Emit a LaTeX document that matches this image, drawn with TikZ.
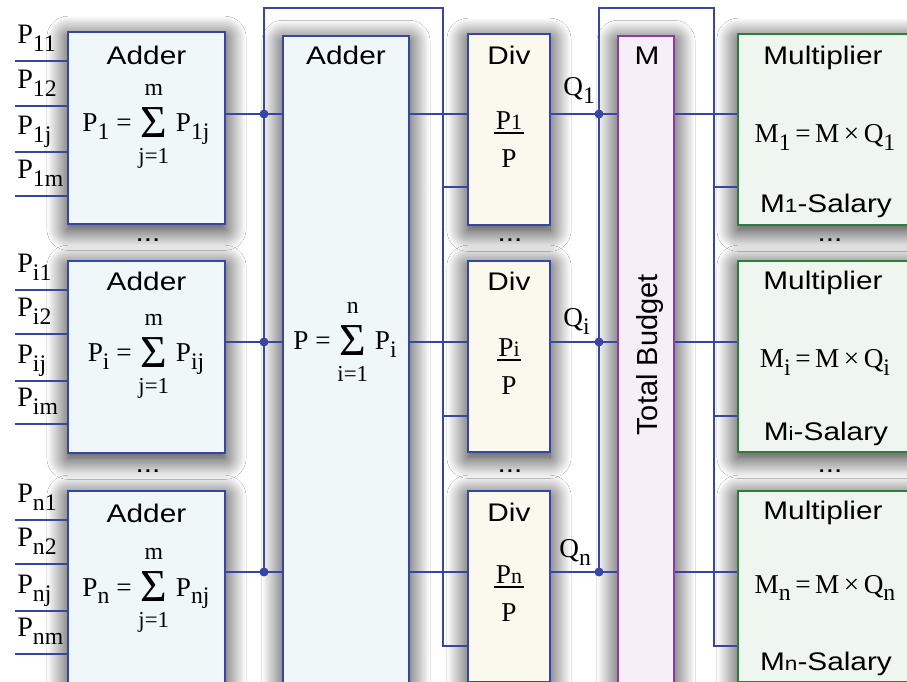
\documentclass[tikz,border=0pt]{standalone}
\usepackage{fontspec}
\setmainfont{Liberation Sans}[FakeStretch=1.17]
\newfontfamily\tms{Liberation Serif}
\newfontfamily\tbf{Liberation Sans}
\usetikzlibrary{shadows.blur}
\definecolor{wireblue}{RGB}{55,70,165}
\definecolor{addfill}{RGB}{239,247,249}
\definecolor{divfill}{RGB}{251,249,237}
\definecolor{tbfill}{RGB}{247,239,247}
\definecolor{tbline}{RGB}{140,60,165}
\definecolor{multfill}{RGB}{239,246,240}
\definecolor{multline}{RGB}{46,125,60}
\newcommand{\Sb}[2]{#1\raisebox{-0.28em}{\fontsize{13.5}{13.5}\selectfont #2}}
\newcommand{\Sn}[2]{#1{\fontsize{12.5}{12.5}\selectfont #2}}
\newcommand{\Sm}[2]{\ensuremath{\mathop{\raisebox{-3pt}{\fontsize{26}{26}\selectfont Σ}}\limits^{\hbox{\fontsize{13.5}{13.5}\selectfont #1\rule[-5.5pt]{0pt}{5.5pt}}}_{\hbox{\fontsize{13}{13}\selectfont\rule{0pt}{13pt}#2}}}}
\newcommand{\Fr}[1]{\setlength{\arrayrulewidth}{1.1pt}\begin{tabular}{@{\hspace{1pt}}c@{\hspace{1pt}}}#1\\[-4pt]\hline\rule{0pt}{19pt}P\end{tabular}}

\begin{document}
\begin{tikzpicture}[x=0.02cm,y=-0.02cm,
  box/.style={draw=wireblue,line width=1.3pt,inner sep=0pt,
    blur shadow={shadow blur radius=12pt,shadow blur steps=25,shadow xshift=0pt,shadow yshift=-3pt,shadow opacity=90}},
  adder/.style={box,fill=addfill,minimum width=3.14cm,minimum height=3.84cm},
  divbox/.style={box,fill=divfill,minimum width=1.64cm,minimum height=3.82cm},
  multbox/.style={box,draw=multline,fill=multfill,minimum width=4.04cm,minimum height=3.82cm},
  link/.style={draw=wireblue,line width=.9pt},
  title/.style={font=\fontsize{14.5}{17}\selectfont,anchor=base,inner sep=0pt},
  formula/.style={font=\tms\fontsize{15.5}{18}\selectfont,anchor=base,inner sep=0pt},
  inlab/.style={font=\tms\fontsize{16}{18}\selectfont,anchor=base west,inner sep=0pt}]
\useasboundingbox (0,0) rectangle (907,682);
\fill[white] (0,0) rectangle (907,682);
\clip (0,0) rectangle (907,682);
\node[adder] (a1) at (146.5,128) {};
\node[adder] (a2) at (146.5,357) {};
\node[adder] (a3) at (146.5,587) {};
\node[adder,minimum width=2.52cm,minimum height=13.68cm] (sum) at (346,378) {};
\node[divbox] (d1) at (509,129.5) {};
\node[divbox] (d2) at (509,356.5) {};
\node[divbox] (d3) at (509,586.5) {};
\node[box,draw=tbline,fill=tbfill,minimum width=1.12cm,minimum height=13.68cm] (tb) at (646,378) {};
\node[multbox] (m1) at (839,129.5) {};
\node[multbox] (m2) at (839,356.5) {};
\node[multbox] (m3) at (839,586.5) {};
\coordinate (o1) at (0,114);
\coordinate (o2) at (0,342);
\coordinate (o3) at (0,572);
\coordinate (b1) at (0,187);
\coordinate (b2) at (0,416);
\coordinate (b3) at (0,646);
\coordinate (t1) at (264,8);
\coordinate (t2) at (443,8);
\coordinate (t3) at (599,8);
\coordinate (t4) at (714,8);
\coordinate (i11) at (15,61);\draw[link] (i11) -- (a1.west |- i11);\node[inlab] (p11) at (17,43.5) {\Sb{P}{11}};
\coordinate (i12) at (15,106);\draw[link] (i12) -- (a1.west |- i12);\node[inlab] (p12) at (17,88.5) {\Sb{P}{12}};
\coordinate (i13) at (15,152);\draw[link] (i13) -- (a1.west |- i13);\node[inlab] (p13) at (17,134.5) {\Sb{P}{1j}};
\coordinate (i14) at (15,196);\draw[link] (i14) -- (a1.west |- i14);\node[inlab] (p14) at (17,178.5) {\Sb{P}{1m}};
\coordinate (i21) at (15,290);\draw[link] (i21) -- (a2.west |- i21);\node[inlab] (p21) at (17,272.5) {\Sb{P}{i1}};
\coordinate (i22) at (15,334);\draw[link] (i22) -- (a2.west |- i22);\node[inlab] (p22) at (17,316.5) {\Sb{P}{i2}};
\coordinate (i23) at (15,381);\draw[link] (i23) -- (a2.west |- i23);\node[inlab] (p23) at (17,363.5) {\Sb{P}{ij}};
\coordinate (i24) at (15,424);\draw[link] (i24) -- (a2.west |- i24);\node[inlab] (p24) at (17,406.5) {\Sb{P}{im}};
\coordinate (i31) at (15,520);\draw[link] (i31) -- (a3.west |- i31);\node[inlab] (p31) at (17,502.5) {\Sb{P}{n1}};
\coordinate (i32) at (15,564);\draw[link] (i32) -- (a3.west |- i32);\node[inlab] (p32) at (17,546.5) {\Sb{P}{n2}};
\coordinate (i33) at (15,611);\draw[link] (i33) -- (a3.west |- i33);\node[inlab] (p33) at (17,593.5) {\Sb{P}{nj}};
\coordinate (i34) at (15,654);\draw[link] (i34) -- (a3.west |- i34);\node[inlab] (p34) at (17,636.5) {\Sb{P}{nm}};
\draw[link] (a1.east |- o1) -- (sum.west |- o1);
\draw[link] (a2.east |- o2) -- (sum.west |- o2);
\draw[link] (a3.east |- o3) -- (sum.west |- o3);
\draw[link] (t1 |- o3) -- (t1) -- (t2) -- (t2 |- b3) -- (d3.west |- b3);
\draw[link] (t2 |- b1) -- (d1.west |- b1);
\draw[link] (t2 |- b2) -- (d2.west |- b2);
\draw[link] (sum.east |- o1) -- (d1.west |- o1);
\draw[link] (sum.east |- o2) -- (d2.west |- o2);
\draw[link] (sum.east |- o3) -- (d3.west |- o3);
\draw[link] (d1.east |- o1) -- (tb.west |- o1);
\draw[link] (d2.east |- o2) -- (tb.west |- o2);
\draw[link] (d3.east |- o3) -- (tb.west |- o3);
\draw[link] (t3 |- o3) -- (t3) -- (t4) -- (t4 |- b3) -- (m3.west |- b3);
\draw[link] (t4 |- b1) -- (m1.west |- b1);
\draw[link] (t4 |- b2) -- (m2.west |- b2);
\draw[link] (tb.east |- o1) -- (m1.west |- o1);
\draw[link] (tb.east |- o2) -- (m2.west |- o2);
\draw[link] (tb.east |- o3) -- (m3.west |- o3);
\fill[wireblue] (t1 |- o1) circle (0.09cm);
\fill[wireblue] (t1 |- o2) circle (0.09cm);
\fill[wireblue] (t1 |- o3) circle (0.09cm);
\fill[wireblue] (t3 |- o1) circle (0.09cm);
\fill[wireblue] (t3 |- o2) circle (0.09cm);
\fill[wireblue] (t3 |- o3) circle (0.09cm);
\node[title] (a1t) at (146.5,65) {Adder};
\node[title] (a2t) at (146.5,291) {Adder};
\node[title] (a3t) at (146.5,522) {Adder};
\node[formula] (a1f) at (146,132) {\Sb{P}{1} = \Sm{m}{j=1} \Sb{P}{1j}};
\node[formula] (a2f) at (146,362) {\Sb{P}{i} = \Sm{m}{j=1} \Sb{P}{ij}};
\node[formula] (a3f) at (146,596) {\Sb{P}{n} = \Sm{m}{j=1} \Sb{P}{nj}};
\node[title] (sumt) at (346,65) {Adder};
\node[formula] (sumf) at (345,350) {P = \Sm{n}{i=1} \Sb{P}{i}};
\node[title] (d1t) at (509,65) {Div};
\node[title] (d2t) at (509,291) {Div};
\node[title] (d3t) at (509,521) {Div};
\node[formula,anchor=center] (d1f) at (509,142) {\Fr{\Sn{P}{1}}};
\node[formula,anchor=center] (d2f) at (509,369) {\Fr{\Sn{P}{i}}};
\node[formula,anchor=center] (d3f) at (509,596) {\Fr{\Sn{P}{n}}};
\node[formula,anchor=base west] (q1) at (563,96) {\Sb{Q}{1}};
\node[formula,anchor=base west] (q2) at (563,327) {\Sb{Q}{i}};
\node[formula,anchor=base west] (q3) at (559,558) {\Sb{Q}{n}};
\node[title] (tbt) at (647,65) {M};
\node[rotate=90,anchor=base,inner sep=0pt,font=\tbf\fontsize{16.5}{18}\selectfont] (tbl) at (657,355) {Total Budget};
\node[title] (m1t) at (823,65) {Multiplier};
\node[title] (m2t) at (823,290) {Multiplier};
\node[title] (m3t) at (823,520) {Multiplier};
\node[formula] (m1f) at (825,143) {\Sb{M}{1}\,=\,M\,×\,\Sb{Q}{1}};
\node[formula] (m2f) at (825,368) {\Sb{M}{i}\,=\,M\,×\,\Sb{Q}{i}};
\node[formula] (m3f) at (825,593) {\Sb{M}{n}\,=\,M\,×\,\Sb{Q}{n}};
\node[title] (m1s) at (826,213) {M{\fontsize{11}{11}\selectfont 1}-Salary};
\node[title] (m2s) at (826,440) {M{\fontsize{11}{11}\selectfont i}-Salary};
\node[title] (m3s) at (826,670) {M{\fontsize{11}{11}\selectfont n}-Salary};
\node[title] (g1) at (148,242) {...};
\node[title] (g2) at (510,242) {...};
\node[title] (g3) at (830,242) {...};
\node[title] (g4) at (148,473) {...};
\node[title] (g5) at (510,473) {...};
\node[title] (g6) at (830,473) {...};
\end{tikzpicture}
\end{document}
